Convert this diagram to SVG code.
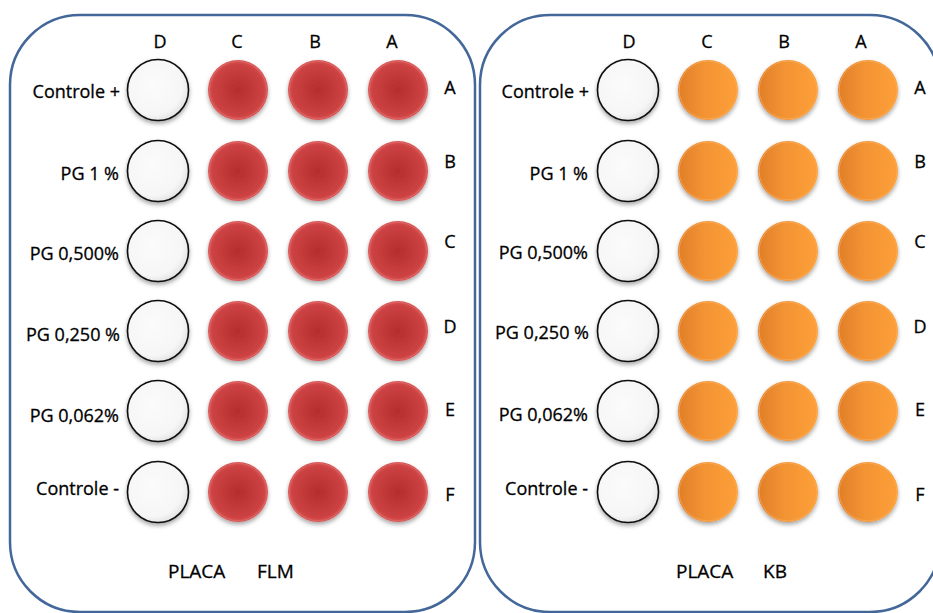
<svg xmlns="http://www.w3.org/2000/svg" xmlns:xlink="http://www.w3.org/1999/xlink" width="933" height="613" viewBox="0 0 933 613">
  <style>
    .panel { fill: #ffffff; stroke: #44679a; stroke-width: 2.5; }
    text { font-family: "Open Sans", "Liberation Sans", sans-serif; fill: #000; stroke: #000; stroke-width: 0.3; }
    .col { font-size: 18px; text-anchor: middle; }
    .rowl { font-size: 18px; text-anchor: end; }
    .rowr { font-size: 18px; text-anchor: middle; }
    .foot { font-size: 19px; }
  </style>
  <defs>
    <radialGradient id="gRed" cx="0.5" cy="0.5" r="0.5">
      <stop offset="0" stop-color="#b62d2d"/>
      <stop offset="0.85" stop-color="#cc4242"/>
      <stop offset="1" stop-color="#d95656"/>
    </radialGradient>
    <linearGradient id="gOrange" x1="0" y1="0" x2="1" y2="0">
      <stop offset="0" stop-color="#e07e28"/>
      <stop offset="0.45" stop-color="#f39434"/>
      <stop offset="1" stop-color="#fd9f38"/>
    </linearGradient>
    <radialGradient id="gWhite" cx="0.42" cy="0.42" r="0.6">
      <stop offset="0" stop-color="#fbfbfb"/>
      <stop offset="0.8" stop-color="#f6f6f6"/>
      <stop offset="1" stop-color="#e4e4e4"/>
    </radialGradient>
    <filter id="shadow" x="-30%" y="-30%" width="160%" height="170%">
      <feDropShadow dx="0" dy="2.5" stdDeviation="2" flood-color="#000" flood-opacity="0.35"/>
    </filter>
    <g id="wellRed">
      <circle r="30" fill="url(#gRed)" filter="url(#shadow)"/>
      <circle r="28.6" fill="none" stroke="#e06a6a" stroke-width="1.2" opacity="0.7"/>
    </g>
    <g id="wellOrange">
      <circle r="30" fill="url(#gOrange)" filter="url(#shadow)"/>
      <circle r="28.8" fill="none" stroke="#fbb060" stroke-width="1" opacity="0.6"/>
    </g>
    <g id="wellWhite">
      <circle r="30.5" fill="url(#gWhite)" stroke="#111" stroke-width="1.6" filter="url(#shadow)"/>
    </g>
  </defs>

  <rect width="933" height="613" fill="#ffffff"/>

  <!-- Left plate: FLM -->
  <g id="plate-flm">
    <rect class="panel" x="10" y="15" width="465" height="597" rx="70" ry="70"/>
    <g id="flm-col-headers">
      <text class="col" x="160" y="48">D</text>
      <text class="col" x="237" y="48">C</text>
      <text class="col" x="315" y="48">B</text>
      <text class="col" x="392" y="48">A</text>
    </g>
    <g id="flm-row-labels">
      <text class="rowl" x="120" y="98">Controle +</text>
      <text class="rowl" x="119" y="180">PG 1 %</text>
      <text class="rowl" x="119" y="260">PG 0,500%</text>
      <text class="rowl" x="120" y="341">PG 0,250 %</text>
      <text class="rowl" x="119" y="422">PG 0,062%</text>
      <text class="rowl" x="119" y="495">Controle -</text>
    </g>
    <g id="flm-row-letters">
      <text class="rowr" x="450" y="94">A</text>
      <text class="rowr" x="450" y="168">B</text>
      <text class="rowr" x="450" y="248">C</text>
      <text class="rowr" x="450" y="333">D</text>
      <text class="rowr" x="450" y="416">E</text>
      <text class="rowr" x="450" y="501">F</text>
    </g>
    <g id="flm-wells">
      <g id="flm-A"><use xlink:href="#wellWhite" x="158" y="90"/><use xlink:href="#wellRed" x="238" y="90"/><use xlink:href="#wellRed" x="318" y="90"/><use xlink:href="#wellRed" x="398" y="90"/></g>
      <g id="flm-B"><use xlink:href="#wellWhite" x="158" y="171"/><use xlink:href="#wellRed" x="238" y="171"/><use xlink:href="#wellRed" x="318" y="171"/><use xlink:href="#wellRed" x="398" y="171"/></g>
      <g id="flm-C"><use xlink:href="#wellWhite" x="158" y="251"/><use xlink:href="#wellRed" x="238" y="251"/><use xlink:href="#wellRed" x="318" y="251"/><use xlink:href="#wellRed" x="398" y="251"/></g>
      <g id="flm-D"><use xlink:href="#wellWhite" x="158" y="331"/><use xlink:href="#wellRed" x="238" y="331"/><use xlink:href="#wellRed" x="318" y="331"/><use xlink:href="#wellRed" x="398" y="331"/></g>
      <g id="flm-E"><use xlink:href="#wellWhite" x="158" y="411"/><use xlink:href="#wellRed" x="238" y="411"/><use xlink:href="#wellRed" x="318" y="411"/><use xlink:href="#wellRed" x="398" y="411"/></g>
      <g id="flm-F"><use xlink:href="#wellWhite" x="158" y="492"/><use xlink:href="#wellRed" x="238" y="492"/><use xlink:href="#wellRed" x="318" y="492"/><use xlink:href="#wellRed" x="398" y="492"/></g>
    </g>
    <g id="flm-title">
      <text class="foot" x="168" y="578">PLACA</text>
      <text class="foot" x="257" y="578">FLM</text>
    </g>
  </g>

  <!-- Right plate: KB -->
  <g id="plate-kb">
    <rect class="panel" x="480" y="15" width="460" height="597" rx="70" ry="70"/>
    <g id="kb-col-headers">
      <text class="col" x="629" y="48">D</text>
      <text class="col" x="707" y="48">C</text>
      <text class="col" x="784" y="48">B</text>
      <text class="col" x="861" y="48">A</text>
    </g>
    <g id="kb-row-labels">
      <text class="rowl" x="589" y="98">Controle +</text>
      <text class="rowl" x="588" y="180">PG 1 %</text>
      <text class="rowl" x="588" y="259">PG 0,500%</text>
      <text class="rowl" x="589" y="339">PG 0,250 %</text>
      <text class="rowl" x="588" y="421">PG 0,062%</text>
      <text class="rowl" x="588" y="495">Controle -</text>
    </g>
    <g id="kb-row-letters">
      <text class="rowr" x="920" y="94">A</text>
      <text class="rowr" x="920" y="168">B</text>
      <text class="rowr" x="920" y="248">C</text>
      <text class="rowr" x="920" y="333">D</text>
      <text class="rowr" x="920" y="416">E</text>
      <text class="rowr" x="920" y="501">F</text>
    </g>
    <g id="kb-wells">
      <g id="kb-A"><use xlink:href="#wellWhite" x="628" y="90"/><use xlink:href="#wellOrange" x="708" y="90"/><use xlink:href="#wellOrange" x="788" y="90"/><use xlink:href="#wellOrange" x="868" y="90"/></g>
      <g id="kb-B"><use xlink:href="#wellWhite" x="628" y="171"/><use xlink:href="#wellOrange" x="708" y="171"/><use xlink:href="#wellOrange" x="788" y="171"/><use xlink:href="#wellOrange" x="868" y="171"/></g>
      <g id="kb-C"><use xlink:href="#wellWhite" x="628" y="251"/><use xlink:href="#wellOrange" x="708" y="251"/><use xlink:href="#wellOrange" x="788" y="251"/><use xlink:href="#wellOrange" x="868" y="251"/></g>
      <g id="kb-D"><use xlink:href="#wellWhite" x="628" y="331"/><use xlink:href="#wellOrange" x="708" y="331"/><use xlink:href="#wellOrange" x="788" y="331"/><use xlink:href="#wellOrange" x="868" y="331"/></g>
      <g id="kb-E"><use xlink:href="#wellWhite" x="628" y="411"/><use xlink:href="#wellOrange" x="708" y="411"/><use xlink:href="#wellOrange" x="788" y="411"/><use xlink:href="#wellOrange" x="868" y="411"/></g>
      <g id="kb-F"><use xlink:href="#wellWhite" x="628" y="492"/><use xlink:href="#wellOrange" x="708" y="492"/><use xlink:href="#wellOrange" x="788" y="492"/><use xlink:href="#wellOrange" x="868" y="492"/></g>
    </g>
    <g id="kb-title">
      <text class="foot" x="676" y="578">PLACA</text>
      <text class="foot" x="763" y="578">KB</text>
    </g>
  </g>

  <g id="connectors"/>
</svg>
